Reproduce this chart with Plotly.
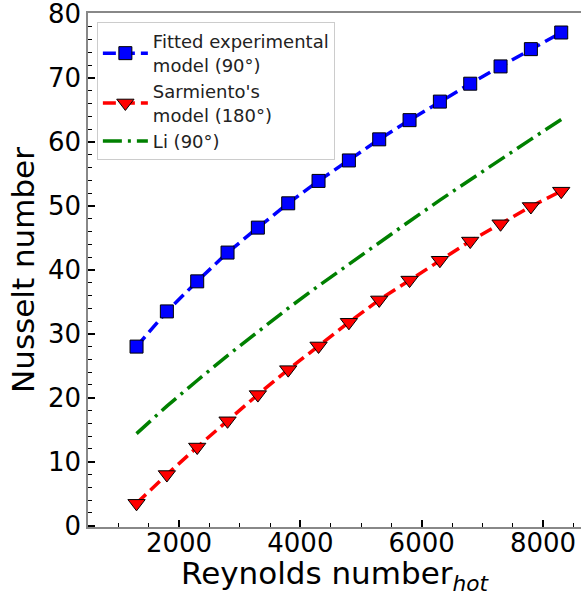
import plotly.graph_objects as go

reynolds = [1300, 1800, 2300, 2800, 3300, 3800, 4300, 4800, 5300, 5800, 6300, 6800, 7300, 7800, 8300]
nu_fitted_90 = [28.0, 33.5, 38.2, 42.7, 46.6, 50.4, 53.9, 57.1, 60.4, 63.4, 66.3, 69.1, 71.8, 74.5, 77.1]
nu_sarmiento_180 = [3.5, 8.0, 12.3, 16.4, 20.5, 24.4, 28.1, 31.8, 35.3, 38.4, 41.5, 44.5, 47.2, 49.9, 52.3]
nu_li_90 = [14.4, 18.7, 22.7, 26.6, 30.3, 34.0, 37.5, 40.9, 44.3, 47.6, 50.9, 54.1, 57.3, 60.4, 63.5]

x_ticks = [2000, 4000, 6000, 8000]
y_ticks = [0, 10, 20, 30, 40, 50, 60, 70, 80]

FONT = "DejaVu Sans"

fig = go.Figure()
fig.add_trace(go.Scatter(
    x=reynolds, y=nu_fitted_90, mode="lines+markers",
    name="Fitted experimental<br>model (90°)",
    line=dict(color="#0000FF", width=3.5, dash="13px,6px"),
    marker=dict(symbol="square", size=13, color="#0000FF", line=dict(color="black", width=1)),
))
fig.add_trace(go.Scatter(
    x=reynolds, y=nu_sarmiento_180, mode="lines+markers",
    name="Sarmiento's<br>model (180°)",
    line=dict(color="#FF0000", width=3.5, dash="13px,6px"),
    marker=dict(symbol="triangle-down", size=15, color="#FF0000", line=dict(color="black", width=1)),
))
fig.add_trace(go.Scatter(
    x=reynolds, y=nu_li_90, mode="lines",
    name="Li (90°)",
    line=dict(color="#008000", width=3.5, dash="19px,6px,3px,6px"),
))

fig.update_layout(
    width=581, height=596,
    margin=dict(l=88, r=0, t=13, b=69),
    paper_bgcolor="white", plot_bgcolor="white",
    font=dict(family=FONT, color="black"),
    showlegend=True,
    legend=dict(
        x=0.018, y=0.982, xanchor="left", yanchor="top",
        bgcolor="rgba(255,255,255,0.85)", bordercolor="#cccccc", borderwidth=1,
        font=dict(family=FONT, size=18, color="#222222"),
        itemwidth=45,
        tracegroupgap=0,
    ),
    xaxis=dict(
        range=[500, 8626], tickvals=x_ticks, ticktext=[str(v) for v in x_ticks],
        ticks="inside", ticklen=7, tickwidth=1.5, tickcolor="black",
        showline=True, linecolor="#888888", linewidth=1.5, mirror=True,
        showgrid=False, zeroline=False, ticklabeloverflow="allow",
        ticklabelstandoff=-8,
        tickfont=dict(family=FONT, size=26, color="black"),
        minor=dict(dtick=500, ticks="inside", ticklen=4, tickwidth=1, tickcolor="black", showgrid=False),
        title=dict(text="Reynolds number<sub><i>hot</i></sub>", font=dict(family=FONT, size=31, color="black"), standoff=14),
    ),
    yaxis=dict(
        range=[-0.2, 80.15], tickvals=y_ticks, ticktext=[str(v) for v in y_ticks],
        ticks="inside", ticklen=7, tickwidth=1.5, tickcolor="black",
        showline=True, linecolor="#888888", linewidth=1.5, mirror=False,
        showgrid=False, zeroline=False, ticklabeloverflow="allow",
        tickfont=dict(family=FONT, size=26, color="black"),
        minor=dict(dtick=2, ticks="inside", ticklen=4, tickwidth=1, tickcolor="black", showgrid=False),
        title=dict(text="Nusselt number", font=dict(family=FONT, size=31, color="black"), standoff=4),
    ),
)

fig.write_html("out.html")
